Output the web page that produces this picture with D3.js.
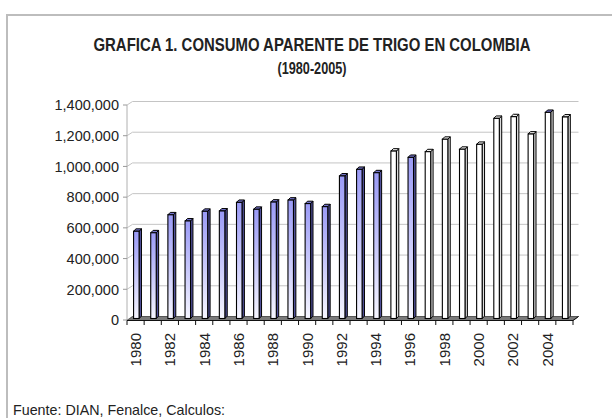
<!DOCTYPE html>
<html>
<head>
<meta charset="utf-8">
<script src="https://cdn.jsdelivr.net/npm/d3@7"></script>
<style>
  body { margin: 0; background: #fff; }
  svg { display: block; }
</style>
</head>
<body>
<div id="chart"></div>
<script>
// datos (toneladas aprox.)
const anios = ["1980","1981","1982","1983","1984","1985","1986","1987","1988","1989",
               "1990","1991","1992","1993","1994","1995","1996","1997","1998","1999",
               "2000","2001","2002","2003","2004","2005"];
const consumo = [565000, 555000, 672000, 632000, 695000, 697000, 753000, 708000, 755000, 768000,
                 745000, 725000, 925000, 968000, 946000, 1087000, 1046000, 1083000, 1164000, 1099000,
                 1131000, 1300000, 1311000, 1198000, 1339000, 1309000];
// color de cada barra en el original
const serie = ["azul","azul","azul","azul","azul","azul","azul","azul","azul","azul",
               "azul","azul","azul","azul","azul","blanco","azul","blanco","blanco","blanco",
               "blanco","blanco","blanco","blanco","blanco","blanco"];
const tapaAzul = ["2004"];
const ticksY = [0, 200000, 400000, 600000, 800000, 1000000, 1200000, 1400000];
const etiquetasX = ["1980","1982","1984","1986","1988","1990","1992","1994","1996","1998","2000","2002","2004"];

const W = 612, H = 418;
const profX = 5.5, profY = -3.5;   // fondo 3d

const svg = d3.select("#chart").append("svg")
  .attr("width", W)
  .attr("height", H);

const defs = svg.append("defs");
const grad = defs.append("linearGradient")
  .attr("id", "gradAzul")
  .attr("x1", 0).attr("y1", 0).attr("x2", 0).attr("y2", 1);
grad.append("stop").attr("offset", "0%").attr("stop-color", "#9a9af6");
grad.append("stop").attr("offset", "100%").attr("stop-color", "#f6f6ff");

// marco
svg.append("rect")
  .attr("x", 7).attr("y", 15)
  .attr("width", 640).attr("height", 440)
  .attr("fill", "none")
  .attr("stroke", "#bdbdbd")
  .attr("stroke-width", 2);

// titulo
svg.append("text")
  .attr("x", 312).attr("y", 51)
  .attr("text-anchor", "middle")
  .attr("font-family", "'Liberation Sans Narrow', 'Arial Narrow', 'Liberation Sans', Arial, sans-serif")
  .attr("font-weight", "bold")
  .attr("font-size", 17.5)
  .attr("textLength", 437)
  .attr("lengthAdjust", "spacingAndGlyphs")
  .attr("fill", "#222")
  .text("GRAFICA 1. CONSUMO APARENTE DE TRIGO EN COLOMBIA");

svg.append("text")
  .attr("x", 312).attr("y", 74)
  .attr("text-anchor", "middle")
  .attr("font-family", "'Liberation Sans Narrow', 'Arial Narrow', 'Liberation Sans', Arial, sans-serif")
  .attr("font-weight", "bold")
  .attr("font-size", 17)
  .attr("textLength", 69)
  .attr("lengthAdjust", "spacingAndGlyphs")
  .attr("fill", "#222")
  .text("(1980-2005)");

const x = d3.scaleBand()
  .domain(anios)
  .range([127, 573]);

const y = d3.scaleLinear()
  .domain([0, 1400000])
  .range([320, 105]);

// rejilla en la pared del fondo
svg.append("g").selectAll("path")
  .data(ticksY)
  .join("path")
  .attr("d", t => `M127,${y(t)} L${127 + profX},${y(t) + profY} L${573 + profX},${y(t) + profY}`)
  .attr("fill", "none")
  .attr("stroke", "#c4c4c4")
  .attr("stroke-width", 1);

svg.append("line")
  .attr("x1", 127).attr("x2", 127)
  .attr("y1", y(1400000)).attr("y2", y(0))
  .attr("stroke", "#b0b0b0");

// eje y
const ejeY = svg.append("g");
ejeY.selectAll("line")
  .data(ticksY)
  .join("line")
  .attr("x1", 123).attr("x2", 127)
  .attr("y1", d => y(d)).attr("y2", d => y(d))
  .attr("stroke", "#999");
ejeY.selectAll("text")
  .data(ticksY)
  .join("text")
  .attr("x", 119)
  .attr("y", d => y(d))
  .attr("dy", "0.36em")
  .attr("text-anchor", "end")
  .attr("font-family", "'Liberation Sans', Arial, sans-serif")
  .attr("font-size", 14.5)
  .attr("fill", "#222")
  .text(d => d3.format(",")(d));

// piso gris
svg.append("path")
  .attr("d", `M127,${y(0) + 0.5} L573,${y(0) + 0.5} L${573 + profX},${y(0) + profY} L${127 + profX},${y(0) + profY} Z`)
  .attr("fill", "#7a7a7a")
  .attr("stroke", "#444")
  .attr("stroke-width", 0.8);

// barras 3d
const anchoBarra = 5.5, ladoX = 2.4, ladoY = -2.4;
const yBarra = v => y(v) - 2;
const base = y(0) - 1.5;
const barras = svg.append("g").selectAll("g")
  .data(anios.map((a, i) => ({anio: a, valor: consumo[i], tipo: serie[i]})))
  .join("g");

barras.each(function(d) {
  const g = d3.select(this);
  const x0 = x(d.anio) + x.bandwidth() / 2 - 2;
  const x1 = x0 + anchoBarra;
  const yt = yBarra(d.valor);
  const azul = d.tipo === "azul";
  // cara lateral
  g.append("path")
    .attr("d", `M${x1},${base} L${x1 + ladoX},${base + ladoY} L${x1 + ladoX},${yt + ladoY} L${x1},${yt} Z`)
    .attr("fill", azul ? "#50509a" : "#dcdcdc")
    .attr("stroke", "#000")
    .attr("stroke-width", 1);
  // cara superior
  g.append("path")
    .attr("d", `M${x0},${yt} L${x1},${yt} L${x1 + ladoX},${yt + ladoY} L${x0 + ladoX},${yt + ladoY} Z`)
    .attr("fill", azul || tapaAzul.includes(d.anio) ? "#7474cc" : "#f0f0f0")
    .attr("stroke", "#000")
    .attr("stroke-width", 1);
  // cara frontal
  g.append("rect")
    .attr("x", x0).attr("y", yt)
    .attr("width", anchoBarra)
    .attr("height", base - yt)
    .attr("fill", azul ? "url(#gradAzul)" : "#fff")
    .attr("stroke", "#000")
    .attr("stroke-width", 1.1);
});

// eje x
const ejeX = svg.append("g");
ejeX.append("path")
  .attr("d", `M127,${y(0) + 0.5} L573,${y(0) + 0.5} L${573 + profX},${y(0) + profY}`)
  .attr("fill", "none")
  .attr("stroke", "#111");
ejeX.selectAll("line")
  .data(anios.concat(["fin"]))
  .join("line")
  .attr("x1", (d, i) => 127 + i * x.step())
  .attr("x2", (d, i) => 127 + i * x.step())
  .attr("y1", y(0) + 0.5).attr("y2", y(0) + 5)
  .attr("stroke", "#111");
ejeX.selectAll("text")
  .data(etiquetasX)
  .join("text")
  .attr("transform", d => `translate(${x(d) + x.bandwidth() / 2},333) rotate(-90)`)
  .attr("dy", "0.36em")
  .attr("text-anchor", "end")
  .attr("font-family", "'Liberation Sans', Arial, sans-serif")
  .attr("font-size", 15)
  .attr("fill", "#222")
  .text(d => d);

// fuente
svg.append("text")
  .attr("x", 13).attr("y", 415)
  .attr("font-family", "'Liberation Sans Narrow', 'Arial Narrow', 'Liberation Sans', Arial, sans-serif")
  .attr("font-size", 15)
  .attr("textLength", 212)
  .attr("lengthAdjust", "spacingAndGlyphs")
  .attr("fill", "#222")
  .text("Fuente: DIAN, Fenalce, Calculos:");
</script>
</body>
</html>
